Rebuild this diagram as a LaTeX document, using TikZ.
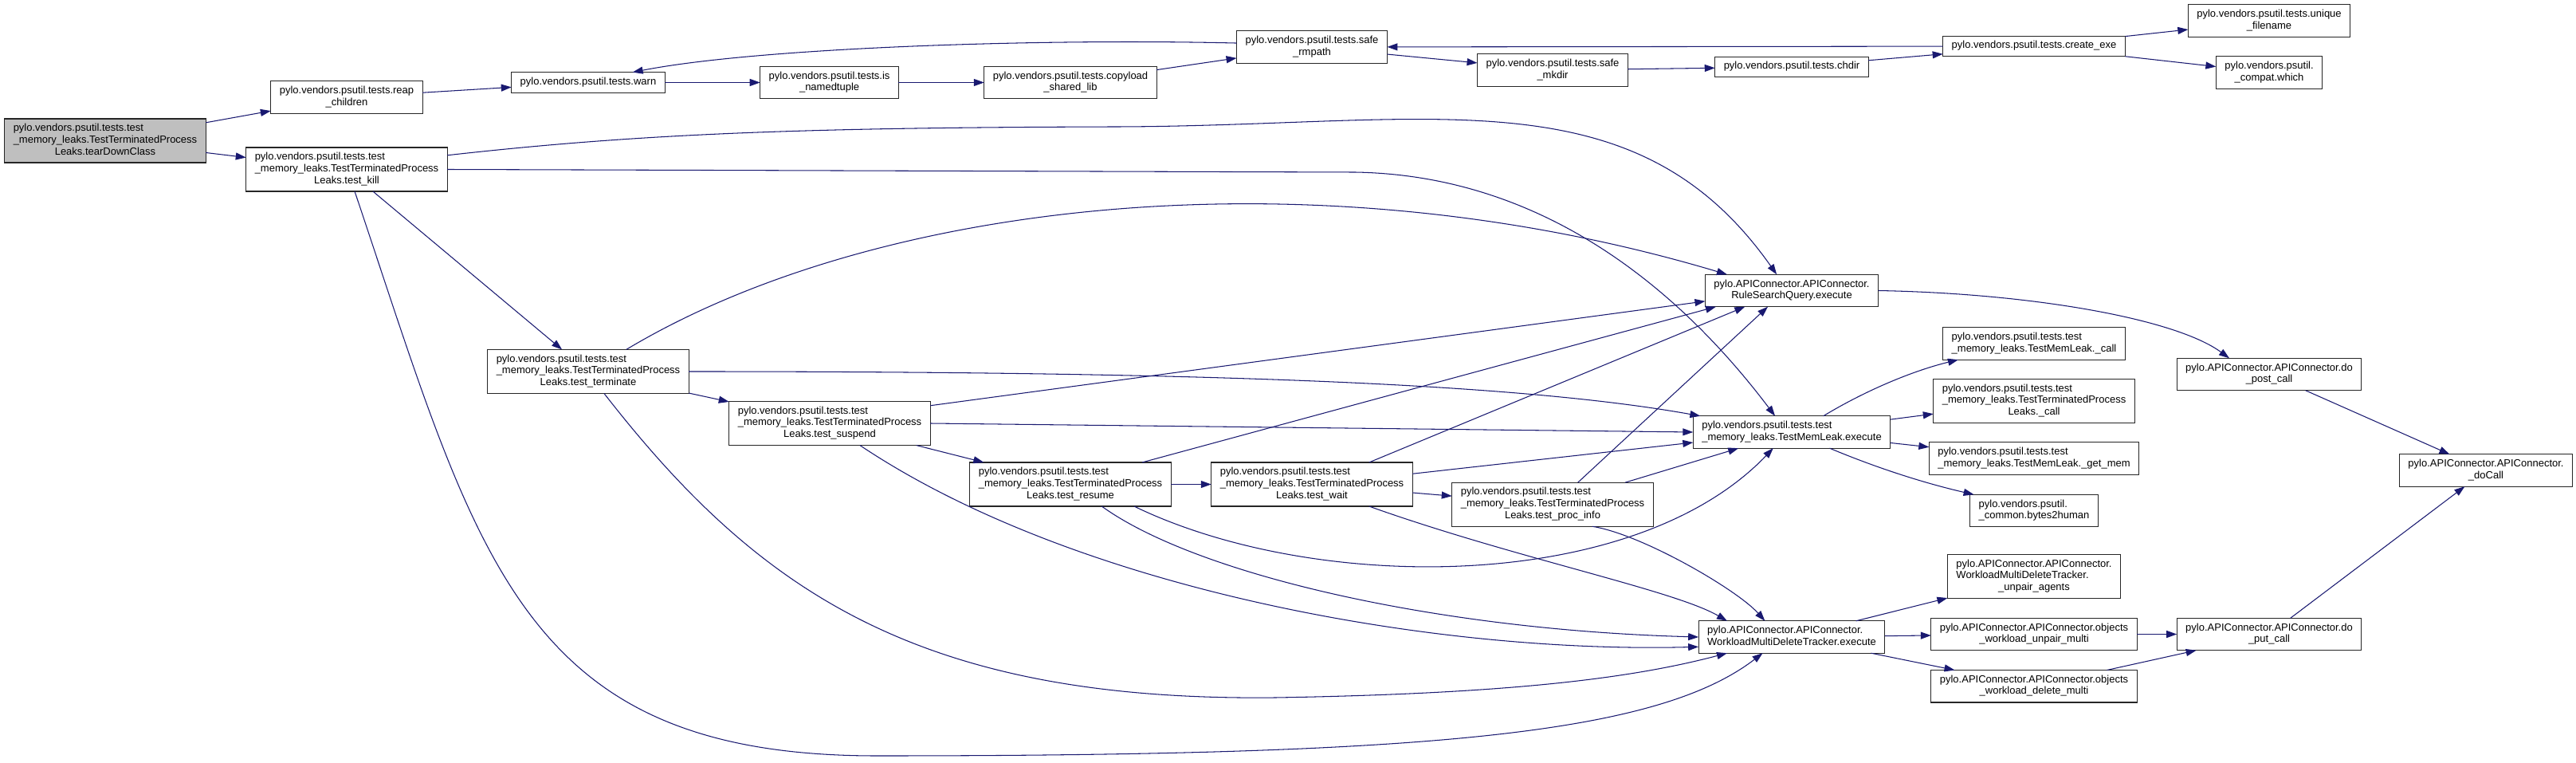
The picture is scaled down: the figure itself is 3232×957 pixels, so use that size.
\documentclass[tikz,border=0pt]{standalone}
\usepackage{fontspec}
\setmainfont{Liberation Sans}
\usetikzlibrary{arrows.meta}
\definecolor{edgeblue}{RGB}{25,25,112}
\newcommand{\lblc}[1]{\begin{tabular}{@{}c@{}}#1\end{tabular}}
\newcommand{\lbll}[2]{\begin{tabular}{@{}l@{}}#1\\\multicolumn{1}{@{}c@{}}{#2}\end{tabular}}
\begin{document}
\begin{tikzpicture}[x=1pt,y=-1pt,every node/.style={draw=black!85, line width=1.2pt, fill=white, inner xsep=11pt, inner ysep=5.5pt, outer sep=0pt, font=\fontsize{13}{14.7}\selectfont},
call/.style={draw=edgeblue, line width=1.05pt, -{Triangle[length=13pt,width=9pt]}}]
\useasboundingbox (0,0) rectangle (3232,957);
\node[fill={rgb,255:red,191;green,191;blue,191}] (tdc) at (132,176.5) {\lbll{pylo.vendors.psutil.tests.test\\\_memory\_leaks.TestTerminatedProcess}{Leaks.tearDownClass}};
\node (reap) at (435,122) {\lblc{pylo.vendors.psutil.tests.reap\\\_children}};
\node (tkill) at (435,212.5) {\lbll{pylo.vendors.psutil.tests.test\\\_memory\_leaks.TestTerminatedProcess}{Leaks.test\_kill}};
\node (warn) at (738,103.5) {\lblc{pylo.vendors.psutil.tests.warn}};
\node (isnt) at (1040.6,103.5) {\lblc{pylo.vendors.psutil.tests.is\\\_namedtuple}};
\node (copy) at (1343,103.5) {\lblc{pylo.vendors.psutil.tests.copyload\\\_shared\_lib}};
\node (rmpath) at (1646,59) {\lblc{pylo.vendors.psutil.tests.safe\\\_rmpath}};
\node (mkdir) at (1948,88) {\lblc{pylo.vendors.psutil.tests.safe\\\_mkdir}};
\node (chdir) at (2248,84) {\lblc{pylo.vendors.psutil.tests.chdir}};
\node (cexe) at (2552,58) {\lblc{pylo.vendors.psutil.tests.create\_exe}};
\node (uniq) at (2847,26) {\lblc{pylo.vendors.psutil.tests.unique\\\_filename}};
\node (which) at (2847,91) {\lblc{pylo.vendors.psutil.\\\_compat.which}};
\node (tterm) at (738,466) {\lbll{pylo.vendors.psutil.tests.test\\\_memory\_leaks.TestTerminatedProcess}{Leaks.test\_terminate}};
\node (tsusp) at (1041,531) {\lbll{pylo.vendors.psutil.tests.test\\\_memory\_leaks.TestTerminatedProcess}{Leaks.test\_suspend}};
\node (tres) at (1343,607.5) {\lbll{pylo.vendors.psutil.tests.test\\\_memory\_leaks.TestTerminatedProcess}{Leaks.test\_resume}};
\node (twait) at (1646,607.5) {\lbll{pylo.vendors.psutil.tests.test\\\_memory\_leaks.TestTerminatedProcess}{Leaks.test\_wait}};
\node (tproc) at (1948,632.7) {\lbll{pylo.vendors.psutil.tests.test\\\_memory\_leaks.TestTerminatedProcess}{Leaks.test\_proc\_info}};
\node (rsq) at (2248,364.5) {\lblc{pylo.APIConnector.APIConnector.\\RuleSearchQuery.execute}};
\node (tmle) at (2248,542) {\lbll{pylo.vendors.psutil.tests.test}{\_memory\_leaks.TestMemLeak.execute}};
\node (wmdt) at (2248,799) {\lbll{pylo.APIConnector.APIConnector.}{WorkloadMultiDeleteTracker.execute}};
\node (mlcall) at (2552,431) {\lbll{pylo.vendors.psutil.tests.test}{\_memory\_leaks.TestMemLeak.\_call}};
\node (tpcall) at (2552,503) {\lbll{pylo.vendors.psutil.tests.test\\\_memory\_leaks.TestTerminatedProcess}{Leaks.\_call}};
\node (getmem) at (2552,575) {\lbll{pylo.vendors.psutil.tests.test}{\_memory\_leaks.TestMemLeak.\_get\_mem}};
\node (b2h) at (2552,640.5) {\lbll{pylo.vendors.psutil.}{\_common.bytes2human}};
\node (unpair) at (2552,723) {\lbll{pylo.APIConnector.APIConnector.\\WorkloadMultiDeleteTracker.}{\_unpair\_agents}};
\node (objun) at (2552,795.5) {\lblc{pylo.APIConnector.APIConnector.objects\\\_workload\_unpair\_multi}};
\node (objdel) at (2552,860.7) {\lblc{pylo.APIConnector.APIConnector.objects\\\_workload\_delete\_multi}};
\node (post) at (2847,469.5) {\lblc{pylo.APIConnector.APIConnector.do\\\_post\_call}};
\node (put) at (2847,795.5) {\lblc{pylo.APIConnector.APIConnector.do\\\_put\_call}};
\node (docall) at (3119,590) {\lblc{pylo.APIConnector.APIConnector.\\\_doCall}};
\draw[call] (tdc) -- (reap);
\draw[call] (tdc) -- (tkill);
\draw[call] (reap) -- (warn);
\draw[call] (warn) -- (isnt);
\draw[call] (isnt) -- (copy);
\draw[call] (copy) -- (rmpath);
\draw[call] (rmpath.177) .. controls (1300,48) and (950,60) .. (warn.13);
\draw[call] (rmpath) -- (mkdir);
\draw[call] (mkdir) -- (chdir);
\draw[call] (chdir) -- (cexe);
\draw[call] (cexe) -- (rmpath);
\draw[call] (cexe) -- (uniq);
\draw[call] (cexe) -- (which);
\draw[call] (tkill.8) .. controls (800,168) and (1000,160) .. (1400,159) .. controls (1800,158) and (2050,90) .. (rsq.133);
\draw[call] (tkill.east) -- (1700,216) .. controls (1950,220) and (2120,380) .. (tmle.136);
\draw[call] (tkill) -- (tterm);
\draw[call] (tkill.-70) .. controls (600,700) and (650,948) .. (1100,948) .. controls (1800,948) and (2080,920) .. (wmdt.-151);
\draw[call] (tterm.30) .. controls (1100,250) and (1650,190) .. (rsq.166);
\draw[call] (tterm.east) .. controls (1500,466) and (1900,480) .. (tmle.170);
\draw[call] (tterm) -- (tsusp);
\draw[call] (tterm.-54) .. controls (950,740) and (1150,880) .. (1600,875) .. controls (1900,870) and (2050,850) .. (wmdt.-166);
\draw[call] (tsusp.10) -- (rsq.187);
\draw[call] (tsusp.east) -- (tmle.west);
\draw[call] (tsusp) -- (tres);
\draw[call] (tsusp.-36) .. controls (1350,740) and (1800,820) .. (wmdt.186);
\draw[call] (tres) -- (twait);
\draw[call] (tres.17) -- (rsq.-168);
\draw[call] (tres.-19) .. controls (1650,745) and (2050,745) .. (tmle.-139);
\draw[call] (tres.-35) .. controls (1500,720) and (1800,790) .. (wmdt.west);
\draw[call] (twait) -- (tproc);
\draw[call] (twait.21) -- (rsq.-161);
\draw[call] (twait.6) -- (tmle.186);
\draw[call] (twait.-21) .. controls (1900,700) and (2100,740) .. (wmdt.166);
\draw[call] (tproc.41) -- (rsq.-146);
\draw[call] (tproc) -- (tmle);
\draw[call] (tproc.-29) .. controls (2060,670) and (2180,740) .. (wmdt.149);
\draw[call] (rsq.east) .. controls (2550,368) and (2730,400) .. (post.158);
\draw[call] (post) -- (docall);
\draw[call] (put) -- (docall);
\draw[call] (tmle.27) .. controls (2340,490) and (2400,465) .. (mlcall.-168);
\draw[call] (tmle) -- (tpcall);
\draw[call] (tmle) -- (getmem);
\draw[call] (tmle.-23) .. controls (2350,585) and (2410,605) .. (b2h.165);
\draw[call] (wmdt) -- (unpair);
\draw[call] (wmdt) -- (objun);
\draw[call] (wmdt) -- (objdel);
\draw[call] (objun) -- (put);
\draw[call] (objdel) -- (put);
\end{tikzpicture}
\end{document}
